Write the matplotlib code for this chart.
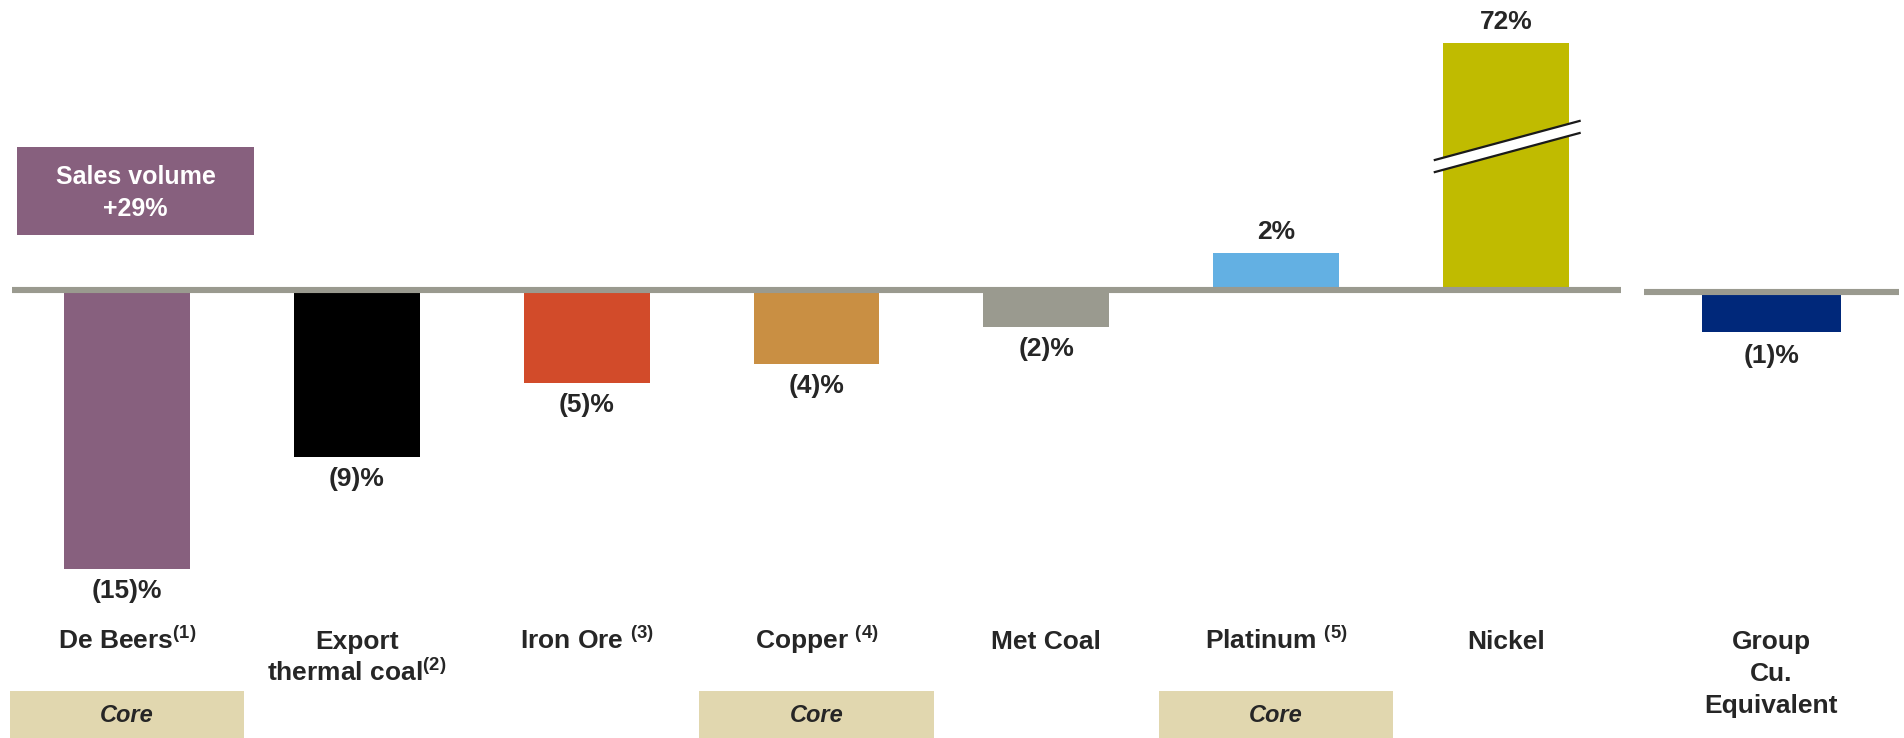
import numpy as np
import matplotlib
matplotlib.use("Agg")
import matplotlib.pyplot as plt
from matplotlib.patches import Rectangle, Polygon
import matplotlib.transforms as mtransforms

plt.rcParams['font.family'] = ['Liberation Sans', 'DejaVu Sans']
plt.rcParams['mathtext.fontset'] = 'custom'
plt.rcParams['mathtext.rm'] = 'Liberation Sans:bold'
plt.rcParams['mathtext.bf'] = 'Liberation Sans:bold'

# business units and sales volume change (%)
units = ['De Beers$^{\\mathbf{(1)}}$', 'Export\nthermal coal$^{\\mathbf{(2)}}$',
         'Iron Ore $^{\\mathbf{(3)}}$', 'Copper $^{\\mathbf{(4)}}$', 'Met Coal',
         'Platinum $^{\\mathbf{(5)}}$', 'Nickel']
changes = [-15, -9, -5, -4, -2, 2, 72]
value_labels = ['(15)%', '(9)%', '(5)%', '(4)%', '(2)%', '2%', '72%']
colors = ['#87607e', '#000000', '#d24b2a', '#c98f43', '#9a9a8f', '#63b0e3', '#c0bb00']
core = [True, False, False, True, False, True, False]

group_label = 'Group\nCu.\nEquivalent'
group_change = [-1]
group_value_label = '(1)%'
group_color = '#00287a'

total_label = 'Sales volume\n+29%'

W, H = 1904, 738
fig = plt.figure(figsize=(W / 100, H / 100), dpi=100)

TXT = '#262626'
GREY = '#9a9a8f'

# compressed scale above the break so the nickel bar fits
T = 10.0
K = (13.3 - T) / (72 - T)


def fwd(v):
    v = np.asarray(v, dtype=float)
    return np.where(v <= T, v, T + (v - T) * K)


def inv(u):
    u = np.asarray(u, dtype=float)
    return np.where(u <= T, u, T + (u - T) / K)


def label_lines(axis, xpos, text, trans):
    # one baseline per line so superscripts don't shift the layout
    for k, line in enumerate(text.split('\n')):
        axis.text(xpos, 1 - (649 + 32 * k) / H, line, transform=trans,
                  ha='center', va='baseline', fontsize=19, fontweight='bold', color=TXT)


ppu = 18.6      # pixels per unit below the break
y0 = 290        # baseline position from top, pixels

ax = fig.add_axes([12 / W, 0, (1621 - 12) / W, 1])
ax.set_yscale('function', functions=(fwd, inv))
ax.set_ylim(-(H - y0) / ppu, float(inv(y0 / ppu)))
ax.set_xlim(-0.5, len(units) - 0.5)
ax.axis('off')

x = np.arange(len(units))
ax.bar(x, changes, width=0.548, color=colors, zorder=2)
ax.axhline(0, color=GREY, lw=4.4, zorder=3)

for xi, v, lab in zip(x, changes, value_labels):
    off = 21 if v > 0 else -22
    ax.annotate(lab, (xi, v), xytext=(0, off * 0.72), textcoords='offset points',
                ha='center', va='center', fontsize=19, fontweight='bold', color=TXT)

# break mark across the nickel bar
ni = len(units) - 1
bx0, bx1 = ni - 0.31, ni + 0.32
lo = [(bx0, 6.34), (bx1, 8.44)]
hi = [(bx0, 6.99), (bx1, 9.09)]
ax.add_patch(Polygon(lo + hi[::-1], closed=True, facecolor='white', edgecolor='none', zorder=4))
for seg in (lo, hi):
    ax.plot([p[0] for p in seg], [p[1] for p in seg], color='#1a1a1a', lw=1.6, zorder=5)

# category labels and "Core" tags
tr = mtransforms.blended_transform_factory(ax.transData, fig.transFigure)
for xi, name, is_core in zip(x, units, core):
    label_lines(ax, xi, name, tr)
    if is_core:
        ax.add_patch(Rectangle((xi - 0.51, 0), 1.02, 47 / H, transform=tr,
                               facecolor='#e1d7af', edgecolor='none', clip_on=False))
        ax.text(xi, 1 - 716 / H, 'Core', transform=tr, ha='center', va='center',
                fontsize=17, fontweight='bold', style='italic', color=TXT)

# group copper-equivalent panel
ppu2 = 40.0
g0 = 292
ax2 = fig.add_axes([1644 / W, 0, 255 / W, 1])
ax2.set_xlim(-0.5, 0.5)
ax2.set_ylim(-(H - g0) / ppu2, g0 / ppu2)
ax2.axis('off')
ax2.bar([0], group_change, width=0.545, color=group_color, zorder=2)
ax2.axhline(0, color=GREY, lw=4.4, zorder=3)
ax2.annotate(group_value_label, (0, group_change[0]), xytext=(0, -17), textcoords='offset points',
             ha='center', va='center', fontsize=19, fontweight='bold', color=TXT)
tr2 = mtransforms.blended_transform_factory(ax2.transData, fig.transFigure)
label_lines(ax2, 0, group_label, tr2)

# total sales volume box
fig.patches.append(Rectangle((17 / W, 1 - 235 / H), 237 / W, 88 / H,
                             transform=fig.transFigure, facecolor='#87607e',
                             edgecolor='none'))
fig.text(135.5 / W, 1 - 193 / H, total_label, ha='center', va='center',
         fontsize=18, fontweight='bold', color='white', linespacing=1.4)

fig.savefig('out.png', dpi=100)
